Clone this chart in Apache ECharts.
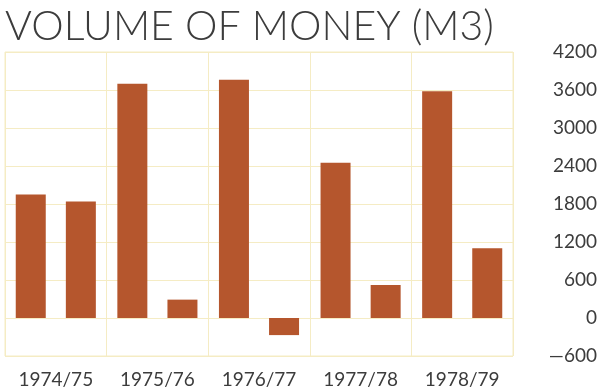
<!DOCTYPE html>
<html><head><meta charset="utf-8">
<script src="https://cdn.jsdelivr.net/npm/echarts@6/dist/echarts.min.js"></script>
<style>html,body{margin:0;padding:0;background:#fff}#c{width:600px;height:389px}</style>
</head><body><div id="c"></div>
<script>
var title = 'VOLUME OF MONEY (M3)';
var categories = ['1974/75', '1975/76', '1976/77', '1977/78', '1978/79'];
var firstBars = [1950, 3700, 3760, 2450, 3580];
var secondBars = [1840, 290, -270, 520, 1100];
var yTickLabels = {'-600': '\u2014600', '0': '0', '600': '600', '1200': '1200', '1800': '1800', '2400': '2400', '3000': '3000', '3600': '3600', '4200': '4200'};

var barColor = '#b5562d';
var gridColor = '#f5ecc4';
var textColor = '#3c3c3c';
var font = 'Lato';

var chart = echarts.init(document.getElementById('c'), null, {renderer: 'canvas'});
chart.setOption({
  animation: false,
  backgroundColor: '#ffffff',
  title: {
    text: title, left: 0, top: 1,
    textStyle: {fontFamily: font, fontSize: 41, fontWeight: 300, color: textColor}
  },
  grid: {left: 5, right: 87, top: 52, bottom: 33, show: true, borderColor: gridColor, borderWidth: 1},
  xAxis: {
    type: 'category', data: categories,
    axisLine: {show: false}, axisTick: {show: false},
    splitLine: {show: true, lineStyle: {color: gridColor, width: 1}},
    axisLabel: {fontFamily: font, fontSize: 19, color: textColor, margin: 14}
  },
  yAxis: {
    type: 'value', position: 'right', min: -600, max: 4200, interval: 600,
    axisLine: {show: false}, axisTick: {show: false},
    splitLine: {show: true, lineStyle: {color: gridColor, width: 1}},
    axisLabel: {
      fontFamily: font, fontSize: 19, color: textColor, align: 'right', margin: 84,
      formatter: function (v) { return yTickLabels[String(v)] || String(v); }
    }
  },
  series: [
    {type: 'bar', data: firstBars, barWidth: 30, barGap: '67%', itemStyle: {color: barColor}},
    {type: 'bar', data: secondBars, barWidth: 30, itemStyle: {color: barColor}}
  ]
});
</script></body></html>
